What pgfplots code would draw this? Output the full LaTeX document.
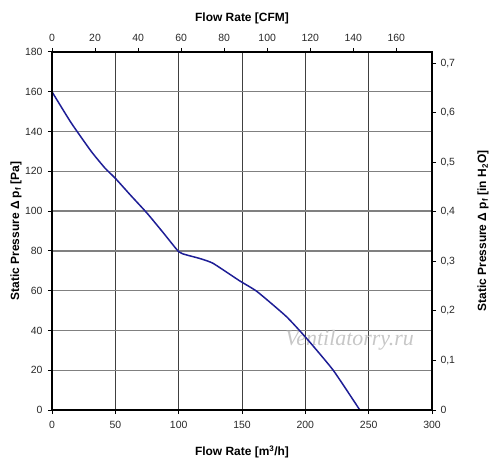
\documentclass[border=0pt]{standalone}
\usepackage{pgfplots}
\pgfplotsset{compat=1.18}
\usepackage{fontspec}
\setmainfont{Liberation Sans}
\newfontfamily\wmfont{Liberation Serif}
\definecolor{curve}{RGB}{30,30,150}
\definecolor{ticktext}{RGB}{40,40,40}
\begin{document}
\begin{tikzpicture}
\begin{axis}[
  scale only axis, width=380bp, height=358bp,
  xmin=0, xmax=300, ymin=0, ymax=180,
  xtick={0,50,...,300}, ytick={0,20,...,180},
  xtick pos=left, ytick pos=left,
  tick align=outside,
  major tick length=4bp,
  every tick/.style={black, line width=1bp},
  axis line style={black, line width=1.6bp},
  xmajorgrids, ymajorgrids,
  x grid style={black!75, line width=0.8bp},
  y grid style={black!50, line width=1.3bp},
  tick label style={font=\fontsize{10.5}{12}\selectfont, text=ticktext},
  xticklabel style={yshift=-4bp},
  yticklabel style={xshift=-2bp},
  /pgf/number format/assume math mode=true,
  xlabel={\bfseries Flow Rate [m\textsuperscript{3}/h]},
  ylabel={\bfseries Static Pressure Δ p\textsubscript{f} [Pa]},
  label style={font=\fontsize{12}{14}\selectfont},
  xlabel style={at={(axis description cs:0.5,-0.117)}, anchor=center},
  ylabel style={at={(axis description cs:-0.0947,0.5)}, anchor=center},
  clip=false,
]
\coordinate (ll) at (rel axis cs:0,0);
\coordinate (ur) at (rel axis cs:1,1);
\node[font=\wmfont\itshape\fontsize{22}{24}\selectfont, text=black!22] at (axis cs:235,35) {Ventilatorry.ru};
\addplot[curve, line width=1.5bp, smooth, tension=0.3] coordinates {
(0,160) (15,144.5) (31,130) (42,121.5) (50,116.5) (62,108) (75,99) (88,89)
(100,79.6) (106,78) (116,76.3) (127,73.8) (148,65) (162,59.5)
(185,47) (201,36) (222,20) (243,0)
};
\end{axis}
\begin{axis}[
  scale only axis, width=380bp, height=358bp,
  xmin=0, xmax=176.57, ymin=0, ymax=0.72264,
  xtick={0,20,...,160}, ytick={0,0.1,0.2,0.3,0.4,0.5,0.6,0.7},
  xtick pos=right, ytick pos=right,
  xticklabel pos=right, yticklabel pos=right,
  tick align=outside,
  major tick length=4bp,
  every tick/.style={black, line width=1bp},
  axis line style={black, line width=1.6bp},
  tick label style={font=\fontsize{10.5}{12}\selectfont, text=ticktext},
  xticklabel style={yshift=3bp},
  yticklabel style={xshift=1bp, /pgf/number format/.cd, fixed, precision=1, use comma},
  /pgf/number format/assume math mode=true,
  xlabel={\bfseries Flow Rate [CFM]},
  ylabel={\bfseries Static Pressure Δ p\textsubscript{f} [in H\textsubscript{2}O]},
  label style={font=\fontsize{12}{14}\selectfont},
  xlabel style={at={(axis description cs:0.5,1.095)}, anchor=center},
  ylabel style={at={(axis description cs:1.134,0.5)}, anchor=center},
]
\end{axis}
\pgfresetboundingbox
\path ([shift={(-52bp,-63bp)}]ll) rectangle ([shift={(68bp,52bp)}]ur);
\end{tikzpicture}
\end{document}
